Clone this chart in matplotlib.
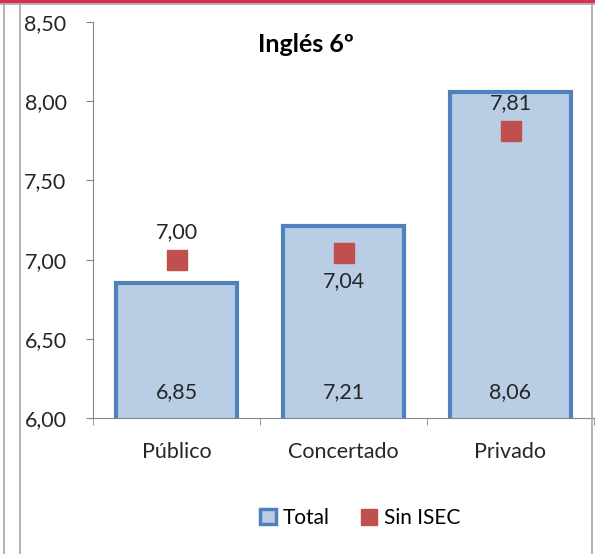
import numpy as np
import matplotlib
matplotlib.use("Agg")
import matplotlib.pyplot as plt
from matplotlib.lines import Line2D
from matplotlib.patches import Patch

categorias = ['Público', 'Concertado', 'Privado']
total = [6.85, 7.21, 8.06]
sin_isec = [7.00, 7.04, 7.81]
etiq_total = ['6,85', '7,21', '8,06']
etiq_sin = ['7,00', '7,04', '7,81']
pos_sin = ['arriba', 'abajo', 'arriba']
yticks = [6.0, 6.5, 7.0, 7.5, 8.0, 8.5]
ytick_labels = ['6,00', '6,50', '7,00', '7,50', '8,00', '8,50']

plt.rcParams['font.family'] = ['Lato', 'DejaVu Sans']

fig = plt.figure(figsize=(5.95, 5.54), dpi=100)
ax = fig.add_axes([93/595, 1-418/554, 501/595, 396/554])

x = np.arange(len(categorias))
ax.bar(x, total, width=0.73, bottom=0, color='#B9CDE5', edgecolor='#4F81BD',
       linewidth=3, zorder=2)
ax.plot(x, sin_isec, 's', color='#C0504D', markersize=14, zorder=3)

for i in range(len(x)):
    ax.annotate(etiq_total[i], (x[i], 6.0), xytext=(0, 19), textcoords='offset points',
                ha='center', va='center', fontsize=15.5, color='#262626')
    dy = 20 if pos_sin[i] == 'arriba' else -20
    ax.annotate(etiq_sin[i], (x[i], sin_isec[i]), xytext=(0, dy), textcoords='offset points',
                ha='center', va='center', fontsize=15.5, color='#262626')

ax.set_ylim(6.0, 8.5)
ax.set_xlim(-0.5, 2.5)
ax.set_yticks(yticks)
ax.set_yticklabels(ytick_labels, fontsize=15.5, color='#262626')
ax.set_xticks(x)
ax.set_xticklabels(categorias, fontsize=15.5, color='#262626')
ax.set_xticks([-0.5, 0.5, 1.5, 2.5], minor=True)
ax.tick_params(axis='x', which='major', length=0, pad=17)
ax.tick_params(axis='x', which='minor', length=5, direction='out', color='#868686')
ax.tick_params(axis='y', length=5, direction='out', color='#868686', pad=14)
for s in ['top', 'right']:
    ax.spines[s].set_visible(False)
for s in ['left', 'bottom']:
    ax.spines[s].set_color('#868686')
ax.patch.set_alpha(0)

fig.text(306/595, 1-45/554, 'Inglés 6º', ha='center', va='center',
         fontsize=18, fontweight='bold')

handles = [Patch(facecolor='#B9CDE5', edgecolor='#4F81BD', linewidth=2.5),
           Line2D([], [], marker='s', linestyle='none', color='#C0504D', markersize=11)]
fig.legend(handles, ['Total', 'Sin ISEC'], loc='center', bbox_to_anchor=(360/595, 1-518/554),
           ncol=2, frameon=False, fontsize=15, handlelength=0.8, handletextpad=0.3,
           columnspacing=1.5)

# marco de la hoja
fig.add_artist(Line2D([0, 1], [1-1/554, 1-1/554], color='#D9304F', linewidth=2.5))
fig.add_artist(Line2D([0, 1], [1-4/554, 1-4/554], color='#A6A6A6', linewidth=1.2))
fig.add_artist(Line2D([4/595, 4/595], [0, 1-4/554], color='#A6A6A6', linewidth=1.2))
fig.add_artist(Line2D([20/595, 20/595], [0, 1-4/554], color='#A6A6A6', linewidth=1.2))
fig.add_artist(Line2D([592/595, 592/595], [0, 1-4/554], color='#A6A6A6', linewidth=1.2))

fig.savefig('out.png', dpi=100)
